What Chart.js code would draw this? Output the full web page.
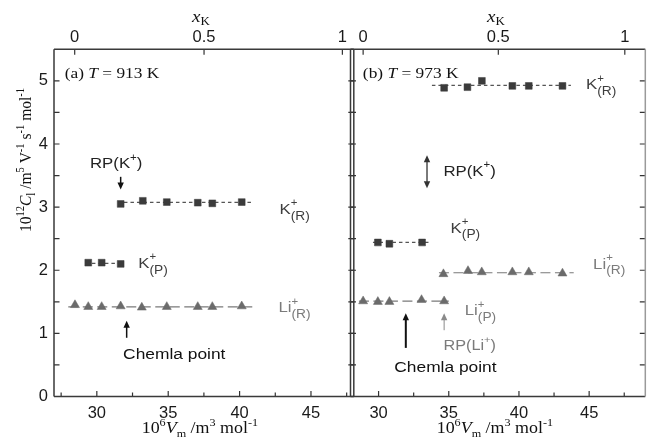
<!DOCTYPE html>
<html><head><meta charset="utf-8">
<script src="https://cdn.jsdelivr.net/npm/chart.js@4.4.0/dist/chart.umd.min.js"></script>
<style>
html,body{margin:0;padding:0;background:#fff;}
#wrap{position:relative;width:651px;height:445px;overflow:hidden;background:#fff;}
canvas{position:absolute;left:0;top:0;}
</style></head><body>
<div id="wrap"><canvas id="ca" width="651" height="445"></canvas><canvas id="cb" width="651" height="445"></canvas></div>
<script>
// ---------------- data: panel (a) T = 913 K ----------------
const vmA_KR  = [31.67, 33.22, 34.90, 37.07, 38.09, 40.15];
const cA_KR   = [3.05, 3.10, 3.08, 3.07, 3.06, 3.08];
const vmA_KP  = [29.40, 30.34, 31.67];
const cA_KP   = [2.12, 2.12, 2.10];
const vmA_LiR = [28.47, 29.40, 30.34, 31.67, 33.15, 34.90, 37.07, 38.09, 40.15];
const cA_LiR  = [1.45, 1.42, 1.42, 1.43, 1.41, 1.42, 1.42, 1.42, 1.43];
// mean lines (start, end) and level
const fitA_KR_vm  = [31.9, 41.0];  const fitA_KR_c  = [3.075, 3.075];
const fitA_KP_vm  = [29.2, 31.7];  const fitA_KP_c  = [2.11, 2.11];
const fitA_LiR_vm = [28.0, 41.0];  const fitA_LiR_c = [1.42, 1.42];

// ---------------- data: panel (b) T = 973 K ----------------
const vmB_KR  = [34.67, 36.33, 37.36, 39.53, 40.70, 43.10];
const cB_KR   = [4.89, 4.90, 5.00, 4.92, 4.92, 4.92];
const vmB_KP  = [29.95, 30.77, 33.10];
const cB_KP   = [2.44, 2.42, 2.44];
const vmB_LiR = [34.62, 36.37, 37.35, 39.53, 40.70, 43.10];
const cB_LiR  = [1.94, 1.99, 1.97, 1.97, 1.97, 1.95];
const vmB_LiP = [28.90, 29.95, 30.77, 33.06, 34.67];
const cB_LiP  = [1.51, 1.50, 1.50, 1.53, 1.51];
const fitB_KR_vm  = [33.8, 43.7];  const fitB_KR_c  = [4.93, 4.93];
const fitB_KP_vm  = [29.6, 33.6];  const fitB_KP_c  = [2.44, 2.44];
const fitB_LiR_vm = [34.3, 43.9];  const fitB_LiR_c = [1.96, 1.96];
const fitB_LiP_vm = [28.6, 35.0];  const fitB_LiP_c = [1.51, 1.51];

// ---------------- ticks ----------------
const vmTicks      = [30, 35, 40, 45];
const vmTickLabels = ['30', '35', '40', '45'];
const vmMinorTicks = [27.5, 32.5, 37.5, 42.5, 47.5];
const cTicks       = [0, 1, 2, 3, 4, 5];
const cTickLabels  = ['0', '1', '2', '3', '4', '5'];
const cMinorTicks  = [0.5, 1.5, 2.5, 3.5, 4.5];
const xKTickLabels = ['0', '0.5', '1'];
const xKTickVmA    = [28.45, 37.51, 47.20];   // Vm position of x_K = 0, 0.5, 1 (913 K)
const xKTickVmB    = [28.90, 38.53, 47.54];   // (973 K)

// ---------------- styling ----------------
const SANS  = '"Liberation Sans", Arial, sans-serif';
const SERIF = '"Liberation Serif", "Times New Roman", serif';
const SX = 1.12;
const SQ = '#3b3b3b', TRI = '#6b6b6b', KLINE = '#555', LILINE = '#7a7a7a';
const KTXT = '#3e3e3e', LITXT = '#7b7b7b';

function ion(a, sup, sub){ return [{t:a},{t:sup,v:'sup',hold:true},{t:sub,v:'sub',k:0.82}]; }
function rp(a){ return [{t:'RP(' + a},{t:'+',v:'sup'},{t:')'}]; }

const panels = {
  ca: {
    vmMin: 27, vmMax: 48, xKVm: xKTickVmA, showY: true,
    padding: {left:0, right:297.2, top:0, bottom:0},
    rightBorder: '#3a3a3a', titleDx: -4,
    series: [
      {vm: vmA_KR, c: cA_KR, style:'rect', r:4.8, color:SQ},
      {vm: vmA_KP, c: cA_KP, style:'rect', r:4.8, color:SQ},
      {vm: vmA_LiR, c: cA_LiR, style:'triangle', r:5.2, color:TRI}
    ],
    fits: [
      {vm: fitA_KR_vm, c: fitA_KR_c, color:KLINE, dash:[3.5,3]},
      {vm: fitA_KP_vm, c: fitA_KP_c, color:KLINE, dash:[3.5,3]},
      {vm: fitA_LiR_vm, c: fitA_LiR_c, color:LILINE, dash:[10,4.5]}
    ],
    texts: [
      {x:27.75, y:5.14, segs:[{t:'(a) '},{t:'T',it:true},{t:' = 913 K'}], fam:SERIF, size:15.5, color:'#111'},
      {x:29.52, y:3.70, segs:rp('K'), fam:SANS, size:15, color:'#222'},
      {x:42.79, y:2.98, segs:ion('K','+','(R)'), fam:SANS, size:15, color:KTXT},
      {x:32.90, y:2.12, segs:ion('K','+','(P)'), fam:SANS, size:15, color:KTXT},
      {x:42.72, y:1.42, segs:ion('Li','+','(R)'), fam:SANS, size:15, color:LITXT},
      {x:31.84, y:0.684, segs:[{t:'Chemla point'}], fam:SANS, size:15.5, color:'#111'}
    ],
    arrows: [
      {x:31.67, y1:3.48, y2:3.28, color:'#111', w:1.5, both:false},
      {x:32.09, y1:0.93, y2:1.20, color:'#111', w:1.5, both:false}
    ]
  },
  cb: {
    vmMin: 28, vmMax: 49, xKVm: xKTickVmB, showY: false,
    padding: {left:350.5, right:2, top:0, bottom:0},
    rightBorder: '#9a9a9a', titleDx: -3,
    series: [
      {vm: vmB_KR, c: cB_KR, style:'rect', r:4.8, color:SQ},
      {vm: vmB_KP, c: cB_KP, style:'rect', r:4.8, color:SQ},
      {vm: vmB_LiR, c: cB_LiR, style:'triangle', r:5.2, color:TRI},
      {vm: vmB_LiP, c: cB_LiP, style:'triangle', r:5.2, color:TRI}
    ],
    fits: [
      {vm: fitB_KR_vm, c: fitB_KR_c, color:KLINE, dash:[3.5,3]},
      {vm: fitB_KP_vm, c: fitB_KP_c, color:KLINE, dash:[3.5,3]},
      {vm: fitB_LiR_vm, c: fitB_LiR_c, color:LILINE, dash:[10,4.5]},
      {vm: fitB_LiP_vm, c: fitB_LiP_c, color:LILINE, dash:[10,4.5]}
    ],
    texts: [
      {x:28.88, y:5.14, segs:[{t:'(b) '},{t:'T',it:true},{t:' = 973 K'}], fam:SERIF, size:15.5, color:'#111'},
      {x:44.78, y:4.95, segs:ion('K','+','(R)'), fam:SANS, size:15, color:KTXT},
      {x:34.62, y:3.585, segs:rp('K'), fam:SANS, size:15, color:'#222'},
      {x:35.13, y:2.68, segs:ion('K','+','(P)'), fam:SANS, size:15, color:KTXT},
      {x:45.28, y:2.11, segs:ion('Li','+','(R)'), fam:SANS, size:15, color:LITXT},
      {x:36.14, y:1.37, segs:ion('Li','+','(P)'), fam:SANS, size:15, color:LITXT},
      {x:34.62, y:0.815, segs:rp('Li'), fam:SANS, size:14.5, color:LITXT},
      {x:31.12, y:0.47, segs:[{t:'Chemla point'}], fam:SANS, size:15.5, color:'#111'}
    ],
    arrows: [
      {x:33.45, y1:3.82, y2:3.30, color:'#333', w:1.3, both:true},
      {x:34.67, y1:1.05, y2:1.32, color:'#8a8a8a', w:1.0, both:false},
      {x:31.94, y1:0.77, y2:1.32, color:'#111', w:2.0, both:false}
    ]
  }
};

// ---------------- rich text ----------------
function layoutRich(ctx, segs, S, fam, supDy, subDy){
  let x = 0, holdW = 0; const items = [];
  for (const s of segs){
    const v = s.v || 'n';
    const size = v === 'n' ? S : S * (s.k || 0.68);
    const font = (s.it ? 'italic ' : '') + size.toFixed(2) + 'px ' + fam;
    ctx.font = font;
    const w = ctx.measureText(s.t).width;
    const dy = v === 'sup' ? supDy * S : v === 'sub' ? subDy * S : 0;
    items.push({t:s.t, font, x, dy});
    if (s.hold) holdW = w; else { x += Math.max(w, holdW); holdW = 0; }
  }
  return {items, width:x};
}
function drawRich(ctx, x, y, segs, o){
  const L = layoutRich(ctx, segs, o.size, o.fam, o.supDy, o.subDy);
  ctx.save();
  ctx.translate(x, y);
  if (o.rotate) ctx.rotate(o.rotate);
  ctx.scale(o.sx || 1, o.sy || 1);
  const x0 = o.align === 'center' ? -L.width / 2 : 0;
  ctx.fillStyle = o.color; ctx.textBaseline = 'alphabetic'; ctx.textAlign = 'left';
  for (const it of L.items){ ctx.font = it.font; ctx.fillText(it.t, x0 + it.x, it.dy); }
  ctx.restore();
}
function arrowHead(ctx, x, y, dir){ // dir: -1 up, +1 down
  ctx.beginPath(); ctx.moveTo(x, y); ctx.lineTo(x - 3.2, y - dir * 7); ctx.lineTo(x + 3.2, y - dir * 7); ctx.closePath(); ctx.fill();
}

const framePlugin = {
  id: 'frame',
  afterDraw(chart){
    const P = panels[chart.canvas.id];
    const ctx = chart.ctx, a = chart.chartArea;
    const xs = chart.scales.x, xt = chart.scales.xTop, ys = chart.scales.y;
    ctx.save();
    // ticks (inward)
    ctx.strokeStyle = '#333'; ctx.lineWidth = 1.2;
    ctx.beginPath();
    const MAJ = 5.5, MIN = 4;
    vmTicks.forEach(v => { const X = xs.getPixelForValue(v); ctx.moveTo(X, a.bottom); ctx.lineTo(X, a.bottom - MAJ); });
    vmMinorTicks.forEach(v => { if (v > P.vmMin && v < P.vmMax){ const X = xs.getPixelForValue(v); ctx.moveTo(X, a.bottom); ctx.lineTo(X, a.bottom - MIN); } });
    P.xKVm.forEach(v => { const X = xt.getPixelForValue(v); ctx.moveTo(X, a.top); ctx.lineTo(X, a.top + MAJ); });
    cTicks.concat(cMinorTicks).forEach(v => {
      if (v <= 0) return;
      const Y = ys.getPixelForValue(v);
      ctx.moveTo(a.left, Y); ctx.lineTo(a.left + MAJ, Y);
      ctx.moveTo(a.right, Y); ctx.lineTo(a.right - MAJ, Y);
    });
    ctx.stroke();
    // frame
    ctx.lineWidth = 1.5; ctx.strokeStyle = '#3a3a3a';
    ctx.beginPath();
    ctx.moveTo(a.left, a.top); ctx.lineTo(a.right, a.top);
    ctx.moveTo(a.left, a.bottom); ctx.lineTo(a.right, a.bottom);
    ctx.moveTo(a.left, a.top); ctx.lineTo(a.left, a.bottom);
    ctx.stroke();
    ctx.strokeStyle = P.rightBorder; ctx.beginPath();
    ctx.moveTo(a.right, a.top); ctx.lineTo(a.right, a.bottom); ctx.stroke();

    // axis titles
    const cx = (a.left + a.right) / 2 + P.titleDx;
    drawRich(ctx, cx, 433, [{t:'10'},{t:'6',v:'sup'},{t:'V',it:true},{t:'m',v:'sub'},{t:' /m'},{t:'3',v:'sup'},{t:' mol'},{t:'-1',v:'sup'}],
      {size:16, fam:SERIF, supDy:-0.42, subDy:0.25, color:'#111', align:'center', sx:SX});
    drawRich(ctx, cx + 1, 21.5, [{t:'x',it:true},{t:'K',v:'sub'}],
      {size:17, fam:SERIF, supDy:-0.42, subDy:0.22, color:'#111', align:'center', sx:SX});
    if (P.showY){
      drawRich(ctx, 31, 160, [{t:'10'},{t:'12',v:'sup'},{t:'C',it:true},{t:'l',v:'sub'},{t:' /m'},{t:'5',v:'sup'},{t:' V'},{t:'-1',v:'sup'},{t:' s'},{t:'-1',v:'sup'},{t:' mol'},{t:'-1',v:'sup'}],
        {size:15.5, fam:SERIF, supDy:-0.42, subDy:0.22, color:'#111', align:'center', rotate:-Math.PI/2, sy:SX});
    }
    // annotation texts
    P.texts.forEach(tx => {
      const X = xs.getPixelForValue(tx.x), Y = ys.getPixelForValue(tx.y) + 0.358 * tx.size;
      drawRich(ctx, X, Y, tx.segs, {size:tx.size, fam:tx.fam, supDy:-0.51, subDy:0.385, color:tx.color, sx:SX});
    });
    // arrows
    P.arrows.forEach(ar => {
      const X = xs.getPixelForValue(ar.x), Y1 = ys.getPixelForValue(ar.y1), Y2 = ys.getPixelForValue(ar.y2);
      const dir = Y2 > Y1 ? 1 : -1;
      ctx.strokeStyle = ar.color; ctx.fillStyle = ar.color; ctx.lineWidth = ar.w;
      ctx.beginPath(); ctx.moveTo(X, Y1 + (ar.both ? dir * 5 : 0)); ctx.lineTo(X, Y2 - dir * 5); ctx.stroke();
      arrowHead(ctx, X, Y2, dir);
      if (ar.both) arrowHead(ctx, X, Y1, -dir);
    });
    ctx.restore();
  }
};

const tickFont = {family: SANS, size: 16.5};
function makePanel(id){
  const P = panels[id];
  const datasets = [];
  P.series.forEach(s => datasets.push({
    type:'scatter', data: s.vm.map((v, i) => ({x: v, y: s.c[i]})),
    pointStyle: s.style, pointRadius: s.r, pointHoverRadius: s.r,
    backgroundColor: s.color, borderColor: s.color, borderWidth: 0.5, order: 0
  }));
  P.fits.forEach(f => datasets.push({
    type:'line', data: f.vm.map((v, i) => ({x: v, y: f.c[i]})),
    borderColor: f.color, borderWidth: 1.2, borderDash: f.dash, pointRadius: 0,
    fill: false, tension: 0, order: 1
  }));
  return new Chart(document.getElementById(id), {
    type: 'scatter',
    data: {datasets},
    plugins: [framePlugin],
    options: {
      responsive: false, animation: false, events: [],
      layout: {padding: P.padding},
      plugins: {legend: {display: false}, tooltip: {enabled: false}},
      scales: {
        x: {
          type: 'linear', position: 'bottom', min: P.vmMin, max: P.vmMax,
          afterBuildTicks: s => { s.ticks = vmTicks.map(v => ({value: v})); },
          afterFit: s => { s.height = 48.5; },
          ticks: {autoSkip: false, maxRotation: 0, padding: 6.6, font: tickFont, color: '#1a1a1a',
                  callback: (v, i) => vmTickLabels[i]},
          grid: {display: false, drawTicks: false}, border: {display: false}
        },
        xTop: {
          type: 'linear', axis: 'x', position: 'top', min: P.vmMin, max: P.vmMax,
          afterBuildTicks: s => { s.ticks = P.xKVm.map(v => ({value: v})); },
          afterFit: s => { s.height = 49.3; },
          ticks: {autoSkip: false, maxRotation: 0, padding: 1.9, font: tickFont, color: '#1a1a1a',
                  callback: (v, i) => xKTickLabels[i]},
          grid: {display: false, drawTicks: false}, border: {display: false}
        },
        y: {
          type: 'linear', position: 'left', min: 0, max: 5.5, display: P.showY,
          afterBuildTicks: s => { s.ticks = cTicks.map(v => ({value: v})); },
          afterFit: s => { s.width = P.showY ? 54 : 0; },
          ticks: {autoSkip: false, padding: 6, font: tickFont, color: '#1a1a1a',
                  callback: (v, i) => cTickLabels[i]},
          grid: {display: false, drawTicks: false}, border: {display: false}
        }
      }
    }
  });
}
makePanel('ca');
makePanel('cb');
</script>
</body></html>
